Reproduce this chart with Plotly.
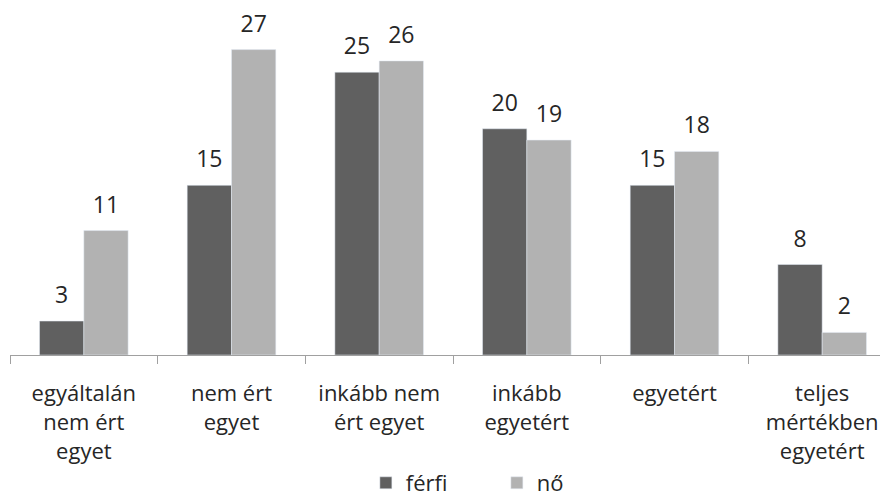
import plotly.graph_objects as go

categories = [
    "egyáltalán<br>nem ért<br>egyet",
    "nem ért<br>egyet",
    "inkább nem<br>ért egyet",
    "inkább<br>egyetért",
    "egyetért",
    "teljes<br>mértékben<br>egyetért",
]
ferfi = [3, 15, 25, 20, 15, 8]
no = [11, 27, 26, 19, 18, 2]

DARK = "#606060"
LIGHT = "#b2b2b2"
TXT = "#262626"
FONT = "Open Sans, sans-serif"

fig = go.Figure()
fig.add_trace(go.Bar(x=categories, y=ferfi, name="férfi", marker_color=DARK))
fig.add_trace(go.Bar(x=categories, y=no, name="nő", marker_color=LIGHT))

# value labels: invisible grouped markers so the text sits a bit above the bars
for vals in (ferfi, no):
    fig.add_trace(go.Scatter(x=categories, y=vals, mode="markers+text", text=vals,
                             textposition="top center", showlegend=False,
                             marker=dict(size=18, opacity=0), cliponaxis=False,
                             textfont=dict(size=23, color=TXT), hoverinfo="skip"))

# page body adds an 8px offset, margins are compensated for it
fig.update_layout(
    width=888, height=496,
    barmode="group", bargap=0.4, bargroupgap=0,
    scattermode="group", scattergap=0.4,
    plot_bgcolor="white", paper_bgcolor="white",
    font=dict(family=FONT, size=22, color=TXT),
    margin=dict(l=2, r=0, t=2, b=149),
    showlegend=True,
    legend=dict(orientation="h", xref="container", x=0.403, xanchor="left",
                yref="container", y=-0.016, yanchor="bottom", entrywidth=86,
                font=dict(size=22)),
)
fig.update_xaxes(showline=True, linecolor="#a0a0a0", linewidth=1,
                 ticks="outside", tickson="boundaries", ticklen=8, tickcolor="#a0a0a0",
                 ticklabelstandoff=19, tickfont=dict(size=22), automargin=False)
fig.update_yaxes(visible=False, range=[0, 30.5])

fig.write_html("out.html")
